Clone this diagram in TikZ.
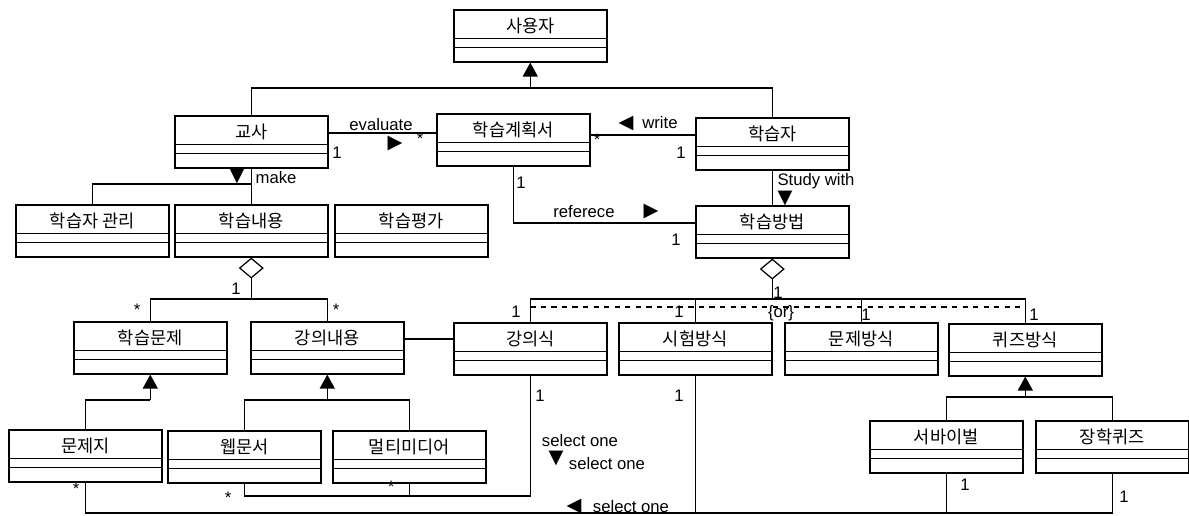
\documentclass[tikz,border=0pt]{standalone}
\usepackage{fontspec}
\setmainfont{Liberation Sans}
\newfontfamily\korfont{Noto Sans CJK KR}
\newfontfamily\trifont{DejaVu Sans}
\usetikzlibrary{arrows.meta}

\begin{document}
\begin{tikzpicture}[x=0.02cm, y=-0.02cm, line width=0.7pt,
  cls/.style={draw, line width=0.9pt, anchor=north west, minimum width=3.06cm,
    inner sep=0pt, text height=0.45cm, text depth=0.59cm,
    font=\korfont\fontsize{10}{11}\selectfont,
    path picture={
      \draw[line width=0.8pt] ([yshift=-0.58cm]path picture bounding box.north west)
        -- ([yshift=-0.58cm]path picture bounding box.north east);
      \draw[line width=0.8pt] ([yshift=-0.76cm]path picture bounding box.north west)
        -- ([yshift=-0.76cm]path picture bounding box.north east);}},
  lbl/.style={font=\fontsize{9.5}{11}\selectfont, inner sep=0pt},
  tri/.style={font=\trifont\fontsize{11}{12}\selectfont, inner sep=0pt},
  gen/.style={-{Triangle[width=0.3cm,length=0.28cm]}},
  aggr/.style={{Diamond[open,width=0.5cm,length=0.42cm]}-}]
\useasboundingbox (0,0) rectangle (1189,516);
% draws classes
\node[cls] (user) at (453,9) {사용자};
\node[cls] (teacher) at (174,115) {교사};
\node[cls] (plan) at (436,113) {학습계획서};
\node[cls] (learner) at (695,117) {학습자};
\node[cls] (mgmt) at (15,204) {학습자 관리};
\node[cls] (content) at (174,204) {학습내용};
\node[cls] (assess) at (334,204) {학습평가};
\node[cls] (method) at (695,205) {학습방법};
\node[cls] (problem) at (73,321) {학습문제};
\node[cls] (lecture) at (250,321) {강의내용};
\node[cls] (lectstyle) at (453,322) {강의식};
\node[cls] (exam) at (618,322) {시험방식};
\node[cls] (drill) at (784,322) {문제방식};
\node[cls] (quiz) at (948,323) {퀴즈방식};
\node[cls] (sheet) at (8,429) {문제지};
\node[cls] (web) at (167,430) {웹문서};
\node[cls] (media) at (332,430) {멀티미디어};
\node[cls] (survival) at (869,420) {서바이벌};
\node[cls] (scholar) at (1035,420) {장학퀴즈};
% junction points
\coordinate (userjoin) at (user.south |- 0,88);
\coordinate (makejoin) at (teacher.south |- 0,184);
\coordinate (refjoin) at (plan.south |- 0,223);
\coordinate (contjoin) at (content.south |- 0,299);
\coordinate (methjoin) at (method.south |- 0,299);
\coordinate (probjoin) at (problem.south |- 0,400);
\coordinate (lectjoin) at (lecture.south |- 0,400);
\coordinate (quizjoin) at (quiz.south |- 0,397);
\coordinate (selA) at (lectstyle.south |- 0,496);
\coordinate (selC) at (scholar.south |- 0,513);
% draws generalizations
\draw (teacher.north) |- (userjoin) -| (learner.north);
\draw[gen] (userjoin) -- (user.south);
\draw (sheet.north) |- (probjoin);
\draw[gen] (probjoin) -- (problem.south);
\draw (web.north) |- (lectjoin) -| (media.north);
\draw[gen] (lectjoin) -- (lecture.south);
\draw (survival.north) |- (quizjoin) -| (scholar.north);
\draw[gen] (quizjoin) -- (quiz.south);
% draws associations
\draw (teacher.east |- 0,133) -- (plan.west |- 0,133);
\draw (plan.east |- 0,135) -- (learner.west |- 0,135);
\draw (plan.south) |- (method.west |- refjoin);
\draw (learner.south) -- (method.north);
\draw (teacher.south) -- (content.north);
\draw (mgmt.north) |- (makejoin);
\draw (lecture.east |- 0,339) -- (lectstyle.west |- 0,339);
% draws aggregations
\draw[aggr] (content.south) -- (contjoin);
\draw (problem.north) |- (contjoin) -| (lecture.north);
\draw[aggr] (method.south) -- (methjoin);
\draw (lectstyle.north) |- (methjoin) -| (quiz.north);
\draw (exam.north) -- (exam.north |- methjoin);
\draw (drill.north) -- (drill.north |- methjoin);
\draw[dashed] (lectstyle.north |- 0,307) -- (quiz.north |- 0,307);
% draws selections
\draw (web.south) |- (selA) -- (lectstyle.south);
\draw (media.south) -- (media.south |- selA);
\draw (sheet.south) |- (selC) -- (scholar.south);
\draw (exam.south) -- (exam.south |- selC);
\draw (survival.south) -- (survival.south |- selC);
% labels associations
\node[lbl] (evallbl) at (381,125) {evaluate};
\node[tri] (evaltri) at (395,143) {▶};
\node[lbl] (evalm1) at (337,153) {1};
\node[lbl] (evalm2) at (420,139) {*};
\node[tri] (writetri) at (626,123) {◀};
\node[lbl] (writelbl) at (660,123) {write};
\node[lbl] (writem1) at (597,140) {*};
\node[lbl] (writem2) at (681,153) {1};
\node[lbl] (refm1) at (521,183) {1};
\node[lbl] (reflbl) at (584,212) {referece};
\node[tri] (reftri) at (651,211) {▶};
\node[lbl] (refm2) at (676,240) {1};
\node[lbl] (studylbl) at (816,181) {Study with};
\node[tri] (studytri) at (785,198) {▼};
\node[tri] (maketri) at (237,176) {▼};
\node[lbl] (makelbl) at (276,178) {make};
% labels aggregations
\node[lbl] (contm1) at (236,289) {1};
\node[lbl] (contm2) at (137,310) {*};
\node[lbl] (contm3) at (336,310) {*};
\node[lbl] (methm1) at (778,293) {1};
\node[lbl] (methm2) at (516,312) {1};
\node[lbl] (methm3) at (679,312) {1};
\node[lbl] (methm4) at (866,315) {1};
\node[lbl] (methm5) at (1034,315) {1};
\node[lbl] (orlbl) at (781,313) {\{or\}};
% labels selections
\node[lbl] (selm1) at (540,396) {1};
\node[lbl] (selm2) at (228,498) {*};
\node[lbl] (selm3) at (391,487) {*};
\node[lbl] (sellbl1) at (580,441) {select one};
\node[tri] (seltri1) at (556,458) {▼};
\node[lbl] (sellbl2) at (607,464) {select one};
\node[lbl] (selm4) at (76,489) {*};
\node[lbl] (selm5) at (679,396) {1};
\node[lbl] (selm6) at (965,485) {1};
\node[lbl] (selm7) at (1124,497) {1};
\node[tri] (seltri2) at (574,506) {◀};
\node[lbl] (sellbl3) at (631,507) {select one};
\end{tikzpicture}
\end{document}
